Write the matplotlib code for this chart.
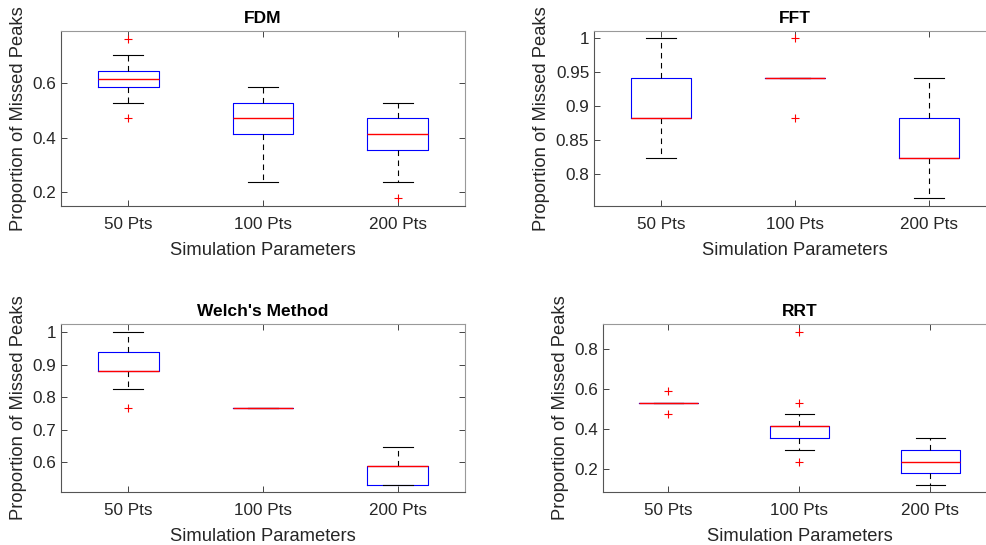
import matplotlib
matplotlib.use("Agg")
import matplotlib.pyplot as plt

plt.rcParams["font.family"] = ["Liberation Sans", "DejaVu Sans"]

CATEGORIAS = ["50 Pts", "100 Pts", "200 Pts"]
TITULOS = ["FDM", "FFT", "Welch's Method", "RRT"]

# box statistics per panel: one value per category
FDM_Q1 = [0.588, 0.412, 0.353]
FDM_MED = [0.618, 0.471, 0.412]
FDM_Q3 = [0.647, 0.529, 0.471]
FDM_LO = [0.529, 0.235, 0.235]
FDM_HI = [0.706, 0.588, 0.529]
FDM_OUT = [[0.471, 0.765], [], [0.176]]

FFT_Q1 = [0.882, 0.941, 0.824]
FFT_MED = [0.882, 0.941, 0.824]
FFT_Q3 = [0.941, 0.941, 0.882]
FFT_LO = [0.824, 0.941, 0.765]
FFT_HI = [1.0, 0.941, 0.941]
FFT_OUT = [[], [0.882, 1.0], []]

WELCH_Q1 = [0.882, 0.765, 0.529]
WELCH_MED = [0.882, 0.765, 0.588]
WELCH_Q3 = [0.941, 0.765, 0.588]
WELCH_LO = [0.824, 0.765, 0.529]
WELCH_HI = [1.0, 0.765, 0.647]
WELCH_OUT = [[0.765], [], []]

RRT_Q1 = [0.529, 0.353, 0.176]
RRT_MED = [0.529, 0.412, 0.235]
RRT_Q3 = [0.529, 0.412, 0.294]
RRT_LO = [0.529, 0.294, 0.118]
RRT_HI = [0.529, 0.471, 0.353]
RRT_OUT = [[0.471, 0.588], [0.235, 0.529, 0.882], []]

PAINEIS = [
    (FDM_Q1, FDM_MED, FDM_Q3, FDM_LO, FDM_HI, FDM_OUT, (0.147, 0.794), [0.2, 0.4, 0.6], ["0.2", "0.4", "0.6"]),
    (FFT_Q1, FFT_MED, FFT_Q3, FFT_LO, FFT_HI, FFT_OUT, (0.753, 1.011), [0.8, 0.85, 0.9, 0.95, 1.0], ["0.8", "0.85", "0.9", "0.95", "1"]),
    (WELCH_Q1, WELCH_MED, WELCH_Q3, WELCH_LO, WELCH_HI, WELCH_OUT, (0.507, 1.026), [0.6, 0.7, 0.8, 0.9, 1.0], ["0.6", "0.7", "0.8", "0.9", "1"]),
    (RRT_Q1, RRT_MED, RRT_Q3, RRT_LO, RRT_HI, RRT_OUT, (0.0835, 0.923), [0.2, 0.4, 0.6, 0.8], ["0.2", "0.4", "0.6", "0.8"]),
]

W, H = 987, 545
# axes rectangles in pixels: left, top, right, bottom
RECTS = [(61, 31, 465, 206), (594, 31, 996, 206), (61, 324, 465, 492), (603, 324, 996, 492)]

fig = plt.figure(figsize=(W / 100, H / 100), dpi=100)

for i, (q1, med, q3, lo, hi, out, ylim, yt, ytl) in enumerate(PAINEIS):
    l, t, r, b = RECTS[i]
    ax = fig.add_axes([l / W, 1 - b / H, (r - l) / W, (b - t) / H])

    stats = []
    for k in range(len(CATEGORIAS)):
        stats.append({"q1": q1[k], "med": med[k], "q3": q3[k],
                      "whislo": lo[k], "whishi": hi[k], "fliers": out[k]})

    ax.bxp(stats, positions=[1, 2, 3], widths=0.45, showfliers=True,
           boxprops=dict(color="blue", linewidth=0.8),
           medianprops=dict(color="red", linewidth=1.0, zorder=3),
           whiskerprops=dict(color="black", linestyle=(0, (5, 4)), linewidth=0.8),
           capprops=dict(color="black", linewidth=0.8),
           capwidths=0.225,
           flierprops=dict(marker="+", markeredgecolor="red", markersize=6, markeredgewidth=0.8))

    ax.set_xlim(0.5, 3.5)
    ax.set_ylim(*ylim)
    ax.set_xticks([1, 2, 3])
    ax.set_xticklabels(CATEGORIAS)
    ax.set_yticks(yt)
    ax.set_yticklabels(ytl)
    ax.tick_params(direction="in", top=True, right=True, length=4, width=0.6,
                   colors="#262626", labelsize=12.3)
    ax.tick_params(axis="x", pad=8)
    for lado in ["left", "bottom"]:
        ax.spines[lado].set_color("#555555")
    for lado in ["top", "right"]:
        ax.spines[lado].set_color("#999999")
    for s in ax.spines.values():
        s.set_linewidth(0.8)

    ax.set_title(TITULOS[i], fontsize=12.5, fontweight="bold", pad=6)
    ax.set_xlabel("Simulation Parameters", fontsize=13.2, color="#262626", labelpad=7)
    ax.set_ylabel("Proportion of Missed Peaks", fontsize=13.2, color="#262626", labelpad=4)

fig.savefig("out.png", dpi=100)
